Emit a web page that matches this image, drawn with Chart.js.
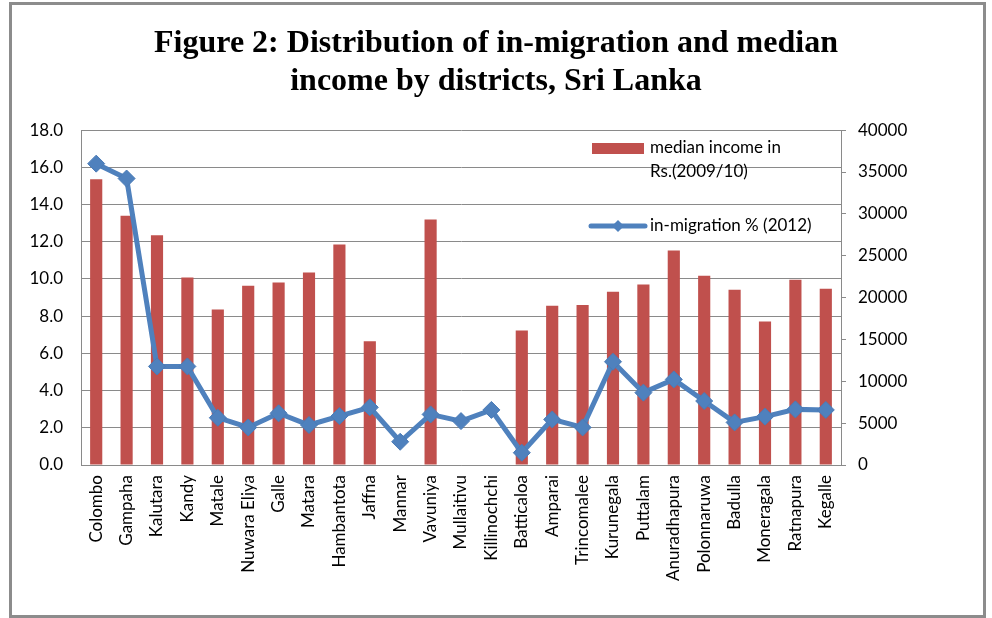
<!DOCTYPE html>
<html>
<head>
<meta charset="utf-8">
<script src="https://cdn.jsdelivr.net/npm/chart.js"></script>
<style>
  html, body { margin: 0; padding: 0; background: #fff; }
  #wrap { width: 992px; height: 618px; position: relative; }
</style>
</head>
<body>
<div id="wrap"><canvas id="migChart"></canvas></div>
<script>
const districts = ['Colombo', 'Gampaha', 'Kalutara', 'Kandy', 'Matale', 'Nuwara Eliya', 'Galle', 'Matara',
  'Hambantota', 'Jaffna', 'Mannar', 'Vavuniya', 'Mullaitivu', 'Killinochchi', 'Batticaloa', 'Amparai',
  'Trincomalee', 'Kurunegala', 'Puttalam', 'Anuradhapura', 'Polonnaruwa', 'Badulla', 'Moneragala',
  'Ratnapura', 'Kegalle'];

// median household income, Rs. (no survey figure for Mannar, Mullaitivu, Killinochchi)
const medianIncome = [34150, 29770, 27460, 22410, 18590, 21410, 21810, 23010, 26350, 14770, null, 29330,
  null, null, 16080, 19020, 19100, 20700, 21570, 25630, 22610, 20940, 17150, 22130, 21050];

// in-migration share of population, %
const inMigration = [16.2, 15.4, 5.3, 5.3, 2.54, 2.02, 2.78, 2.15, 2.63, 3.1, 1.25, 2.72, 2.36, 2.96, 0.66,
  2.45, 2.02, 5.55, 3.89, 4.6, 3.44, 2.29, 2.6, 2.99, 2.96];

const pctTicks = [0, 2, 4, 6, 8, 10, 12, 14, 16, 18];
const incomeTicks = [0, 5000, 10000, 15000, 20000, 25000, 30000, 35000, 40000];

const RED = '#c0504d';
const BLUE = '#4f81bd';
const GRID = '#8a8a8a';
const FONT = 'Lato';
const FONT_SIZE = 17;

// frame round the figure plus the two-entry legend
const framePlugin = {
  id: 'frame',
  beforeDraw(chart) {
    const ctx = chart.ctx;
    ctx.save();
    ctx.fillStyle = '#fff';
    ctx.fillRect(0, 0, chart.width, chart.height);
    ctx.restore();
  },
  afterDraw(chart) {
    const ctx = chart.ctx;
    ctx.save();
    ctx.strokeStyle = '#8c8c8c';
    ctx.lineWidth = 3;
    ctx.strokeRect(10.5, 3.5, 974, 613);

    ctx.font = FONT_SIZE + 'px ' + FONT;
    ctx.textBaseline = 'middle';
    ctx.textAlign = 'left';

    ctx.fillStyle = RED;
    ctx.fillRect(592, 143, 52, 11);
    ctx.fillStyle = '#000';
    ctx.fillText('median income in', 650, 148);
    ctx.fillText('Rs.(2009/10)', 650, 172);

    ctx.strokeStyle = BLUE;
    ctx.lineWidth = 5;
    ctx.lineCap = 'round';
    ctx.beginPath();
    ctx.moveTo(591, 226);
    ctx.lineTo(645, 226);
    ctx.stroke();
    ctx.fillStyle = BLUE;
    ctx.beginPath();
    ctx.moveTo(618, 220); ctx.lineTo(624, 226); ctx.lineTo(618, 232); ctx.lineTo(612, 226);
    ctx.closePath();
    ctx.fill();
    ctx.fillStyle = '#000';
    ctx.fillText('in-migration % (2012)', 650, 226);
    ctx.restore();
  }
};

new Chart(document.getElementById('migChart'), {
  data: {
    labels: districts,
    datasets: [
      {
        type: 'line',
        label: 'in-migration % (2012)',
        data: inMigration,
        yAxisID: 'y',
        borderColor: BLUE,
        backgroundColor: BLUE,
        borderWidth: 5,
        pointStyle: 'rectRot',
        pointRadius: 8.5,
        pointBorderWidth: 1,
        pointBorderColor: '#4a7bb7',
        pointBackgroundColor: BLUE,
        tension: 0,
        order: 0
      },
      {
        type: 'bar',
        label: 'median income in Rs.(2009/10)',
        data: medianIncome,
        yAxisID: 'y1',
        backgroundColor: RED,
        categoryPercentage: 1,
        barPercentage: 0.4,
        order: 1
      }
    ]
  },
  options: {
    responsive: true,
    maintainAspectRatio: false,
    animation: false,
    layout: { padding: 0 },
    plugins: {
      legend: { display: false },
      tooltip: { enabled: false },
      title: {
        display: true,
        text: ['Figure 2: Distribution of in-migration and median', 'income by districts, Sri Lanka'],
        color: '#000',
        font: { family: 'Liberation Serif', size: 32, weight: 'bold', lineHeight: 1.19 },
        padding: { top: 25, bottom: 29 }
      }
    },
    scales: {
      x: {
        offset: true,
        afterFit: s => { s.height = 153; },
        grid: { drawOnChartArea: false, drawTicks: false },
        border: { color: GRID, width: 1 },
        ticks: {
          autoSkip: false,
          maxRotation: 90,
          minRotation: 90,
          padding: 10,
          color: '#000',
          font: { family: FONT, size: FONT_SIZE }
        }
      },
      y: {
        position: 'left',
        min: 0,
        max: 18,
        afterFit: s => { s.width = 81; },
        afterBuildTicks: s => { s.ticks = pctTicks.map(v => ({ value: v })); },
        grid: { color: GRID, lineWidth: 1, drawTicks: false },
        border: { color: GRID, width: 1 },
        ticks: {
          padding: 18,
          color: '#000',
          font: { family: FONT, size: FONT_SIZE },
          callback: v => v.toFixed(1)
        }
      },
      y1: {
        position: 'right',
        min: 0,
        max: 40000,
        afterFit: s => { s.width = 151; },
        afterBuildTicks: s => { s.ticks = incomeTicks.map(v => ({ value: v })); },
        grid: { drawOnChartArea: false, drawTicks: true, tickLength: 5, color: GRID },
        border: { color: GRID, width: 1 },
        ticks: {
          padding: 12,
          color: '#000',
          font: { family: FONT, size: FONT_SIZE },
          callback: v => String(v)
        }
      }
    }
  },
  plugins: [framePlugin]
});
</script>
</body>
</html>
